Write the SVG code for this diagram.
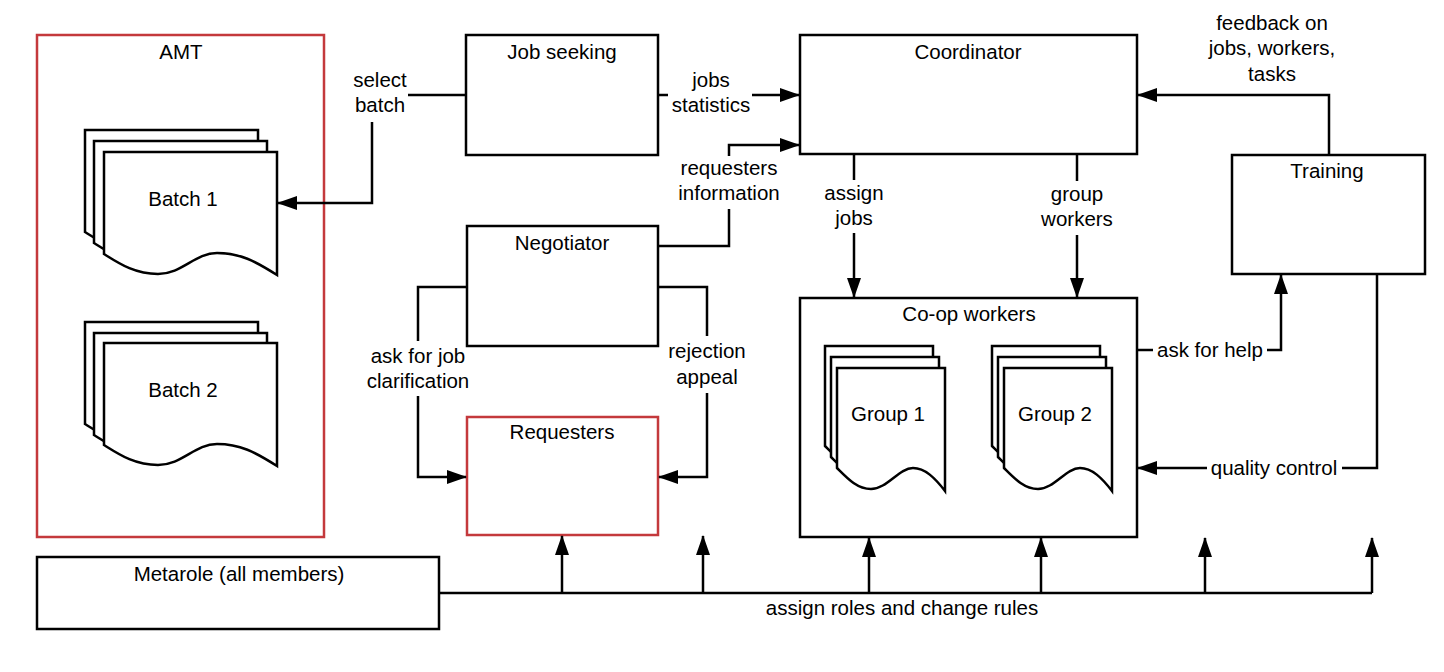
<svg xmlns="http://www.w3.org/2000/svg" xmlns:xlink="http://www.w3.org/1999/xlink" width="1444" height="672" viewBox="0 0 1444 672">
<style>
.box{fill:#fff;stroke:#000;stroke-width:2.5}
.red{fill:#fff;stroke:#c4393c;stroke-width:2.5}
.doc{fill:#fff;stroke:#000;stroke-width:2.5;stroke-linejoin:miter}
.t{font-family:"Liberation Sans",Arial,sans-serif;font-size:20.5px;fill:#000;text-anchor:middle}
.c{fill:none;stroke:#000;stroke-width:2.5}
.a{fill:none;stroke:#000;stroke-width:2.5;marker-end:url(#ah)}
</style>
<defs>
<marker id="ah" markerUnits="userSpaceOnUse" markerWidth="20" markerHeight="14" refX="19" refY="7" orient="auto">
<path d="M0,0 L20,7 L0,14 z" fill="#000"/>
</marker>
<path id="bdoc" d="M0,0 H173 V123 C151,109 136,101 113,101 C91,101 78,122 54,122 C31,122 16,112 0,102 Z"/>
<path id="gdoc" d="M0,0 H108 V123 C98,110 88,100 76,100 C62,100 50,121 34,121 C20,121 10,110 0,100 Z"/>
</defs>
<rect width="1444" height="672" fill="#fff"/>

<g id="amt">
<rect class="red" x="37" y="35" width="287" height="502"/>
<text class="t" x="181" y="59">AMT</text>
</g>
<g id="batch1">
<use href="#bdoc" class="doc" x="85" y="130"/>
<use href="#bdoc" class="doc" x="94" y="141"/>
<use href="#bdoc" class="doc" x="104" y="152"/>
<text class="t" x="183" y="206">Batch 1</text>
</g>
<g id="batch2">
<use href="#bdoc" class="doc" x="85" y="322"/>
<use href="#bdoc" class="doc" x="94" y="333"/>
<use href="#bdoc" class="doc" x="104" y="343"/>
<text class="t" x="183" y="397">Batch 2</text>
</g>
<g id="jobseeking">
<rect class="box" x="466" y="35" width="192" height="120"/>
<text class="t" x="562" y="59">Job seeking</text>
</g>
<g id="coordinator">
<rect class="box" x="800" y="35" width="337" height="119"/>
<text class="t" x="968" y="59">Coordinator</text>
</g>
<g id="negotiator">
<rect class="box" x="467" y="226" width="191" height="120"/>
<text class="t" x="562" y="250">Negotiator</text>
</g>
<g id="requesters">
<rect class="red" x="467" y="417" width="191" height="118"/>
<text class="t" x="562" y="439">Requesters</text>
</g>
<g id="training">
<rect class="box" x="1232" y="155" width="193" height="119"/>
<text class="t" x="1327" y="178">Training</text>
</g>
<g id="coop">
<rect class="box" x="800" y="298" width="337" height="239"/>
<text class="t" x="969" y="321">Co-op workers</text>
</g>
<g id="group1">
<use href="#gdoc" class="doc" x="825" y="346"/>
<use href="#gdoc" class="doc" x="831" y="357"/>
<use href="#gdoc" class="doc" x="837" y="368"/>
<text class="t" x="888" y="421">Group 1</text>
</g>
<g id="group2">
<use href="#gdoc" class="doc" x="992" y="346"/>
<use href="#gdoc" class="doc" x="998" y="357"/>
<use href="#gdoc" class="doc" x="1004" y="368"/>
<text class="t" x="1055" y="421">Group 2</text>
</g>
<g id="metarole">
<rect class="box" x="37" y="557" width="402" height="72"/>
<text class="t" x="239" y="581">Metarole (all members)</text>
</g>

<g id="connectors">
<path class="c" d="M466,95 H408"/>
<path class="a" d="M372,122 V203 H278"/>
<text class="t" x="380" y="87">select</text>
<text class="t" x="380" y="112">batch</text>

<path class="c" d="M658,95 H668"/>
<path class="a" d="M752,95 H799"/>
<text class="t" x="711" y="87">jobs</text>
<text class="t" x="711" y="112">statistics</text>

<path class="c" d="M658,246 H729 V209"/>
<path class="a" d="M729,156 V145 H799"/>
<text class="t" x="729" y="175">requesters</text>
<text class="t" x="729" y="200">information</text>

<path class="c" d="M854,154 V180"/>
<path class="a" d="M854,233 V297"/>
<text class="t" x="854" y="200">assign</text>
<text class="t" x="854" y="225">jobs</text>

<path class="c" d="M1077,154 V181"/>
<path class="a" d="M1077,235 V297"/>
<text class="t" x="1077" y="201">group</text>
<text class="t" x="1077" y="226">workers</text>

<path class="a" d="M1329,155 V95 H1138"/>
<text class="t" x="1272" y="30">feedback on</text>
<text class="t" x="1272" y="55">jobs, workers,</text>
<text class="t" x="1272" y="81">tasks</text>

<path class="c" d="M1137,350 H1153"/>
<path class="a" d="M1267,350 H1281 V275"/>
<text class="t" x="1210" y="357">ask for help</text>

<path class="c" d="M1377,274 V468 H1342"/>
<path class="a" d="M1207,468 H1138"/>
<text class="t" x="1274" y="475">quality control</text>

<path class="c" d="M467,287 H418 V341"/>
<path class="a" d="M418,396 V477 H466"/>
<text class="t" x="418" y="363">ask for job</text>
<text class="t" x="418" y="388">clarification</text>

<path class="c" d="M658,287 H707 V336"/>
<path class="a" d="M707,393 V477 H659"/>
<text class="t" x="707" y="358">rejection</text>
<text class="t" x="707" y="384">appeal</text>

<path class="c" d="M439,593 H1372"/>
<path class="a" d="M562,593 V536"/>
<path class="a" d="M703,593 V536"/>
<path class="a" d="M869,593 V538"/>
<path class="a" d="M1041,593 V538"/>
<path class="a" d="M1205,593 V538"/>
<path class="a" d="M1372,593 V538"/>
<text class="t" x="902" y="615">assign roles and change rules</text>
</g>
</svg>
